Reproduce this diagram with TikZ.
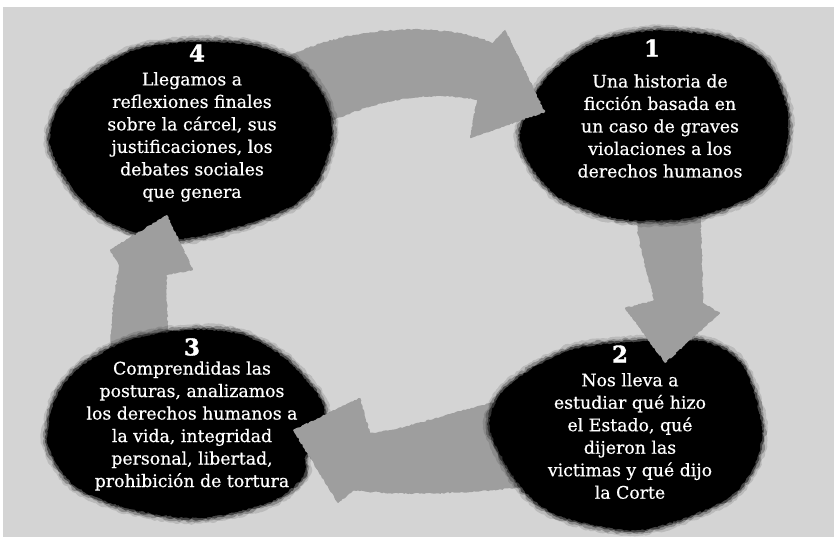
\documentclass[tikz,border=0pt]{standalone}
\usepackage{fontspec}
\setmainfont{DejaVu Serif}
\newfontfamily\bodyfont[FakeBold=0.6]{DejaVu Serif}
\newfontfamily\numfont[FakeBold=1.5]{DejaVu Serif Bold}
\usetikzlibrary{decorations.pathmorphing}
\definecolor{bggray}{RGB}{212,212,212}
\definecolor{arrgray}{RGB}{158,158,158}
\newcommand\inkblob[1]{%
  \path[blobhaloA] plot[smooth cycle] coordinates {#1};
  \path[blobhaloB] plot[smooth cycle] coordinates {#1};
  \path[blobrim] plot[smooth cycle] coordinates {#1};
  \path[blobfill] plot[smooth cycle] coordinates {#1};
}
\begin{document}
\begin{tikzpicture}[x=1pt,y=-1pt,
  blobtext/.style={text=white, align=center, inner sep=0pt, font=\bodyfont\fontsize{17.3}{22.5}\selectfont},
  numtext/.style={text=white, inner sep=0pt, font=\numfont\fontsize{23}{23}\selectfont},
  arrowfill/.style={fill=arrgray, decorate, decoration={random steps, segment length=2pt, amplitude=0.7pt}},
  blobhaloA/.style={draw=black, line width=11pt, line join=round, draw opacity=0.12, decorate, decoration={random steps, segment length=2pt, amplitude=1.5pt}},
  blobhaloB/.style={draw=black, line width=7pt, line join=round, draw opacity=0.25, decorate, decoration={random steps, segment length=2pt, amplitude=1.5pt}},
  blobrim/.style={draw=black, line width=3.5pt, line join=round, draw opacity=0.5, decorate, decoration={random steps, segment length=2pt, amplitude=1pt}},
  blobfill/.style={fill=black, decorate, decoration={random steps, segment length=2pt, amplitude=0.8pt}},
]
\pgfmathsetseed{7}
% background
\fill[white] (0,0) rectangle (834,537);
\fill[bggray] (3,7) rectangle (834,537);
\useasboundingbox (0,0) rectangle (834,537);

% arrows (full shapes)
\path[arrowfill] (270,68) .. controls (330,25) and (440,20) .. (493,43)
  -- (505,30) -- (545,112) -- (470,138) -- (477,100)
  .. controls (430,90) and (370,100) .. (318,128) -- cycle;
\path[arrowfill] (635,195) -- (638,235) .. controls (645,270) and (652,290) .. (656,307)
  -- (625,308) -- (665,363) -- (720,313) -- (703,310)
  .. controls (703,270) and (701,240) .. (700,195) -- cycle;
\path[arrowfill] (530,396) .. controls (460,405) and (410,432) .. (363,433)
  -- (360,398) -- (293,430) -- (338,503) -- (350,490)
  .. controls (400,496) and (470,494) .. (530,486) -- cycle;
\path[arrowfill] (110,385) .. controls (110,320) and (114,290) .. (120,263)
  -- (110,250) -- (167,215) -- (193,270) -- (167,270)
  .. controls (166,300) and (168,330) .. (172,385) -- cycle;

% blobs
\inkblob{(650,31) (720,37) (765,60) (787,110) (783,160) (752,196) (690,218) (620,219) (560,198) (527,160) (521,128) (545,80) (590,45)}
\inkblob{(617,343) (700,341) (742,365) (762,427) (752,470) (722,502) (640,530) (560,516) (520,486) (490,430) (500,395) (530,370) (570,350)}
\inkblob{(190,42) (250,45) (297,63) (325,100) (332,135) (318,180) (290,207) (230,229) (165,240) (110,222) (75,192) (50,145) (60,105) (90,75) (135,50)}
\inkblob{(190,330) (240,334) (283,357) (318,395) (324,420) (306,455) (303,477) (270,502) (200,518) (130,509) (75,486) (48,445) (55,400) (80,367) (130,340)}

% arrowheads over the target blobs
\path[arrowfill] (493,43) -- (505,30) -- (545,112) -- (470,138) -- (477,100) -- cycle;
\path[arrowfill] (656,300) -- (625,308) -- (665,363) -- (720,313) -- (703,303) -- cycle;
\path[arrowfill] (370,433) -- (360,398) -- (293,430) -- (338,503) -- (355,490) -- cycle;
\path[arrowfill] (120,268) -- (110,250) -- (167,215) -- (193,270) -- (167,275) -- cycle;

% texts
\node[numtext] (n1) at (652,48) {1};
\node[blobtext] (t1) at (660,126) {Una historia de\\ficción basada en\\un caso de graves\\violaciones a los\\derechos humanos};
\node[numtext] (n2) at (620,354) {2};
\node[blobtext] (t2) at (630,436) {Nos lleva a\\estudiar qué hizo\\el Estado, qué\\dijeron las\\victimas y qué dijo\\la Corte};
\node[numtext] (n3) at (192,347) {3};
\node[blobtext] (t3) at (192,426) {Comprendidas las\\posturas, analizamos\\los derechos humanos a\\la vida, integridad\\personal, libertad,\\prohibición de tortura};
\node[numtext] (n4) at (197,53) {4};
\node[blobtext] (t4) at (192,137) {Llegamos a\\reflexiones finales\\sobre la cárcel, sus\\justificaciones, los\\debates sociales\\que genera};
\end{tikzpicture}
\end{document}
